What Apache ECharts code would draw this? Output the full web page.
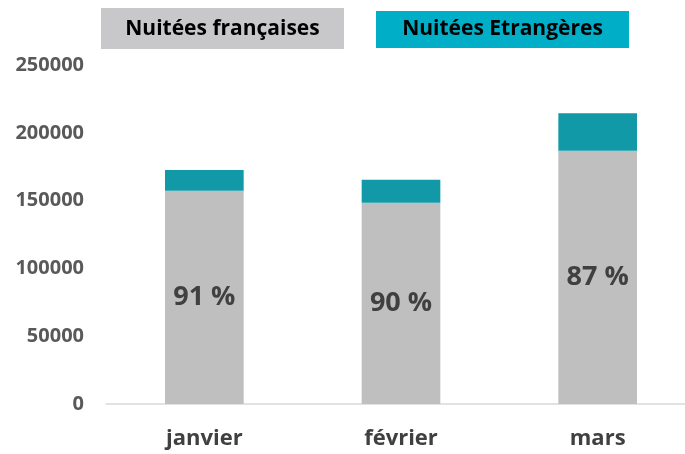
<!DOCTYPE html>
<html><head><meta charset="utf-8">
<script src="https://cdn.jsdelivr.net/npm/echarts@6/dist/echarts.min.js"></script>
<style>html,body{margin:0;padding:0;background:#fff}#c{width:685px;height:454px}</style>
</head><body><div id="c"></div>
<script>
const categories = ['janvier', 'février', 'mars'];
const francaises = [157300, 148500, 186800];
const etrangeres = [15300, 16900, 27600];
const yTicks = [0, 50000, 100000, 150000, 200000, 250000];

const FONT = '"Open Sans", sans-serif';
const chart = echarts.init(document.getElementById('c'));
chart.setOption({
  animation: false,
  grid: { left: 106, top: 65, width: 590, bottom: 50, containLabel: false, outerBoundsMode: 'none' },
  xAxis: {
    type: 'category', data: categories,
    axisLine: { lineStyle: { color: '#D9D9D9', width: 1.5 } },
    axisTick: { show: false },
    axisLabel: { color: '#404040', fontSize: 22, fontWeight: 'bold', fontFamily: FONT, margin: 24 }
  },
  yAxis: {
    type: 'value', min: yTicks[0], max: yTicks[yTicks.length - 1], interval: 50000,
    axisLine: { show: false }, axisTick: { show: false }, splitLine: { show: false },
    axisLabel: { color: '#595959', fontSize: 20, fontWeight: 'bold', fontFamily: FONT, margin: 22,
      formatter: v => String(v) }
  },
  series: [
    {
      name: 'Nuitées françaises', type: 'bar', stack: 't', data: francaises, barWidth: '40%',
      itemStyle: { color: '#BFBFBF' },
      label: {
        show: true, position: 'inside', color: '#404040', fontSize: 27, fontWeight: 'bold', fontFamily: FONT,
        formatter: p => Math.round(100 * francaises[p.dataIndex] / (francaises[p.dataIndex] + etrangeres[p.dataIndex])) + ' %'
      }
    },
    {
      name: 'Nuitées Etrangères', type: 'bar', stack: 't', data: etrangeres, barWidth: '40%',
      itemStyle: { color: '#1199A8' }
    }
  ],
  graphic: [
    { type: 'rect', left: 101, top: 8, shape: { width: 243, height: 41 }, style: { fill: '#C8C8CA' } },
    { type: 'text', x: 222.5, y: 29, style: { text: 'Nuitées françaises', fill: '#000', font: 'bold 21px ' + FONT, textAlign: 'center', textVerticalAlign: 'middle' } },
    { type: 'rect', left: 376, top: 11, shape: { width: 253, height: 37 }, style: { fill: '#00AEC7' } },
    { type: 'text', x: 502.5, y: 29, style: { text: 'Nuitées Etrangères', fill: '#000', font: 'bold 21px ' + FONT, textAlign: 'center', textVerticalAlign: 'middle' } }
  ]
});
</script></body></html>
